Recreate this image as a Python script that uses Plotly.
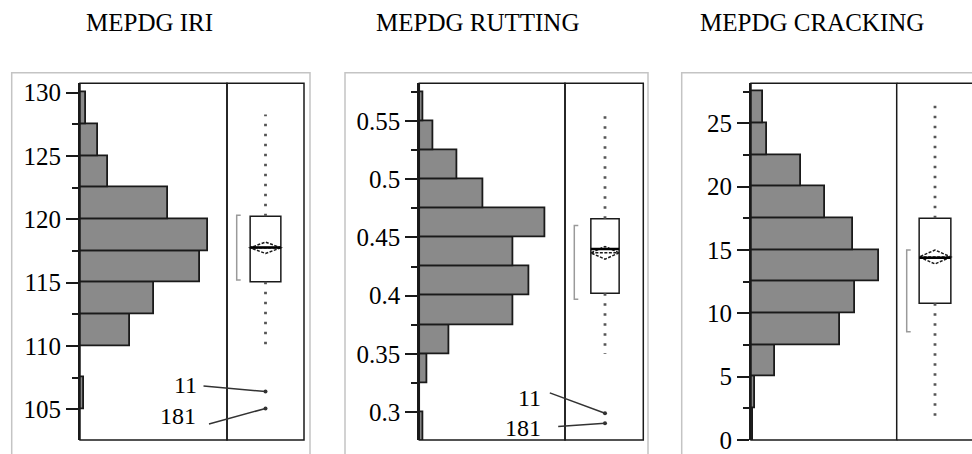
import plotly.graph_objects as go

W, H = 972, 454

# ---------------- data ----------------
titles = ["MEPDG IRI", "MEPDG RUTTING", "MEPDG CRACKING"]

# histogram bins (centres) and relative counts
iri_bins = [106.25, 108.75, 111.25, 113.75, 116.25, 118.75, 121.25, 123.75, 126.25, 128.75]
iri_counts = [2, 0, 25, 37, 60, 64, 44, 14, 9, 3]

rut_bins = [0.2875, 0.3125, 0.3375, 0.3625, 0.3875, 0.4125, 0.4375, 0.4625, 0.4875, 0.5125, 0.5375, 0.5625]
rut_counts = [2, 0, 4, 15, 47, 55, 47, 63, 32, 19, 7, 2]

crk_bins = [1.25, 3.75, 6.25, 8.75, 11.25, 13.75, 16.25, 18.75, 21.25, 23.75, 26.25]
crk_counts = [1, 2, 12, 44.5, 52, 64, 51, 37, 25, 8, 6]

# box-plot summaries: [q1, median, q3]
iri_quart = [115.06, 117.78, 120.24]
rut_quart = [0.4022, 0.440, 0.466]
crk_quart = [10.79, 14.39, 17.5]
# whiskers [low, high]
iri_whisk = [110.07, 128.26]
rut_whisk = [0.350, 0.5557]
crk_whisk = [1.79, 26.58]
# mean and mean-diamond half width
iri_mean = [117.75, 0.45]
rut_mean = [0.4368, 0.0054]
crk_mean = [14.45, 0.55]
# shortest half
iri_short = [115.2, 120.32]
rut_short = [0.397, 0.4602]
crk_short = [8.55, 15.0]
# outliers
iri_out = [106.4, 105.07]
rut_out = [0.2991, 0.2906]
crk_out = []
out_ids = ["11", "181"]

data = [
    dict(bins=iri_bins, counts=iri_counts, bw=2.5, quart=iri_quart, whisk=iri_whisk,
         mean=iri_mean, short=iri_short, out=iri_out),
    dict(bins=rut_bins, counts=rut_counts, bw=0.025, quart=rut_quart, whisk=rut_whisk,
         mean=rut_mean, short=rut_short, out=rut_out),
    dict(bins=crk_bins, counts=crk_counts, bw=2.5, quart=crk_quart, whisk=crk_whisk,
         mean=crk_mean, short=crk_short, out=crk_out),
]

# ---------------- layout geometry (pixels) ----------------
geo = [
    dict(hx0=80, div=227, bx1=304, bc=265.5, boxw=30.7, brk=236.7, yr=[102.58, 130.73],
         dt=5, mdt=2.5, frame=[11.7, 310],
         lab=[(-67, 6.7), (-67.5, -7.7)], arr=[(-63.5, -5.7), (-58, 16)]),
    dict(hx0=419.3, div=565, bx1=643.3, bc=605, boxw=28.3, brk=574.3, yr=[0.2762, 0.5823],
         dt=0.05, mdt=0.025, frame=[345, 648],
         lab=[(-61.7, 15.6), (-61.7, -5)], arr=[(-56.7, -21), (-48.3, 3.4)]),
    dict(hx0=751, div=896.7, bx1=972, bc=935, boxw=31.7, brk=906.7, yr=[0, 28.16],
         dt=5, mdt=2.5, frame=[681.7, 1100],
         lab=[], arr=[]),
]
title_x = [149, 477, 812]

YTOP, YBOT = 83.3, 440
yd = [1 - YBOT / H, 1 - YTOP / H]

FONT = "Liberation Serif"
BAR_FILL = "#8a8a8a"
DARK = "#1a1a1a"

fig = go.Figure()
shapes = []
annotations = []
layout_axes = {}

for i, (d, g) in enumerate(zip(data, geo)):
    hx = "x" if i == 0 else f"x{2*i+1}"
    bx = f"x{2*i+2}"
    yy = "y" if i == 0 else f"y{i+1}"
    hxk = "xaxis" if i == 0 else f"xaxis{2*i+1}"
    bxk = f"xaxis{2*i+2}"
    yk = "yaxis" if i == 0 else f"yaxis{i+1}"

    hist_w = g["div"] - g["hx0"]
    px_per_count = 2.0
    s = g["bc"] - g["div"]          # px per box-axis unit
    right = (g["bx1"] - g["bc"]) / s
    bw = g["boxw"] / s

    layout_axes[hxk] = dict(domain=[g["hx0"] / W, g["div"] / W], range=[0, hist_w / px_per_count],
                            anchor=yy, visible=False, fixedrange=True, automargin=False)
    layout_axes[bxk] = dict(domain=[g["div"] / W, min(g["bx1"] / W, 1)], range=[-1, right],
                            anchor=yy, visible=False, fixedrange=True, automargin=False)
    layout_axes[yk] = dict(domain=yd, range=g["yr"], anchor=hx, showgrid=False, zeroline=False,
                           automargin=False,
                           showline=True, linecolor=DARK, linewidth=2,
                           ticks="outside", ticklen=12, tickwidth=1.5, tickcolor=DARK,
                           dtick=g["dt"], tick0=0,
                           minor=dict(dtick=g["mdt"], ticks="outside", ticklen=6, tickwidth=1.5,
                                      tickcolor=DARK, showgrid=False),
                           tickfont=dict(family=FONT, size=25, color="black"),
                           fixedrange=True)

    # histogram
    fig.add_trace(go.Bar(y=d["bins"], x=d["counts"], orientation="h", width=d["bw"],
                         marker=dict(color=BAR_FILL, line=dict(color=DARK, width=1.8)),
                         xaxis=hx, yaxis=yy, showlegend=False, hoverinfo="skip"))

    q1, med, q3 = d["quart"]
    # box (no solid whiskers)
    fig.add_trace(go.Box(x=[0], q1=[q1], median=[med], q3=[q3], lowerfence=[q1], upperfence=[q3],
                         mean=[d["mean"][0]], sd=[d["mean"][1]], boxmean="sd",
                         width=bw, whiskerwidth=0, fillcolor="white",
                         line=dict(color=DARK, width=1.5), boxpoints=False,
                         orientation="v", xaxis=bx, yaxis=yy, showlegend=False, hoverinfo="skip"))
    # median emphasised
    fig.add_trace(go.Scatter(x=[-bw / 2, bw / 2], y=[med, med], mode="lines",
                             line=dict(color="black", width=2.5),
                             xaxis=bx, yaxis=yy, showlegend=False, hoverinfo="skip"))
    # dotted whiskers
    lo, hi = d["whisk"]
    fig.add_trace(go.Scatter(x=[0, 0, None, 0, 0], y=[q3, hi, None, q1, lo], mode="lines",
                             line=dict(color="#555555", width=2.8, dash="2.5px,7.5px"),
                             xaxis=bx, yaxis=yy, showlegend=False, hoverinfo="skip"))
    # shortest half bracket
    bxp = (g["brk"] - g["bc"]) / s
    tick = 4 / s
    sh0, sh1 = d["short"]
    fig.add_trace(go.Scatter(x=[bxp + tick, bxp, bxp, bxp + tick], y=[sh1, sh1, sh0, sh0],
                             mode="lines", line=dict(color="#9a9a9a", width=1.5),
                             xaxis=bx, yaxis=yy, showlegend=False, hoverinfo="skip"))
    # outliers
    if d["out"]:
        fig.add_trace(go.Scatter(x=[0] * len(d["out"]), y=d["out"], mode="markers",
                                 marker=dict(color="#333333", size=4),
                                 xaxis=bx, yaxis=yy, showlegend=False, hoverinfo="skip"))
        for k, v in enumerate(d["out"]):
            lx, ly = g["lab"][k]
            ax, ay = g["arr"][k]
            annotations.append(dict(xref=bx, yref=yy, x=0, y=v, text="", showarrow=True,
                                    ax=ax, ay=ay, arrowhead=0, arrowwidth=1.5,
                                    arrowcolor="#333333", standoff=0, startstandoff=0))
            annotations.append(dict(xref=bx, yref=yy, x=0, y=v, text=out_ids[k], showarrow=False,
                                    xanchor="right", yanchor="middle", xshift=lx, yshift=ly,
                                    font=dict(family=FONT, size=24, color="black")))

    # inner frames
    shapes.append(dict(type="rect", xref=f"{hx} domain", yref=f"{yy} domain", x0=0, x1=1, y0=0, y1=1,
                       line=dict(color=DARK, width=1.5)))
    if g["bx1"] < W:
        shapes.append(dict(type="rect", xref=f"{bx} domain", yref=f"{yy} domain", x0=0, x1=1, y0=0, y1=1,
                           line=dict(color=DARK, width=1.5)))
    else:
        for yv in (0, 1):
            shapes.append(dict(type="line", xref=f"{bx} domain", yref=f"{yy} domain", x0=0, x1=1.05,
                               y0=yv, y1=yv, line=dict(color=DARK, width=1.5)))
    # outer light frame
    shapes.append(dict(type="rect", xref="paper", yref="paper", x0=g["frame"][0] / W, x1=g["frame"][1] / W,
                       y0=-0.2, y1=1 - 72.7 / H, line=dict(color="#c4c4c4", width=1.5), layer="below"))

    annotations.append(dict(xref="paper", yref="paper", x=title_x[i] / W, y=1 - 22.5 / H,
                            text=titles[i], showarrow=False, xanchor="center", yanchor="middle",
                            font=dict(family=FONT, size=25, color="black")))

fig.update_layout(width=W, height=H, margin=dict(l=0, r=0, t=0, b=0, pad=0, autoexpand=False),
                  paper_bgcolor="white", plot_bgcolor="white",
                  barmode="overlay", bargap=0, showlegend=False,
                  shapes=shapes, annotations=annotations, **layout_axes)

fig.write_html("out.html", config={"displayModeBar": False, "responsive": False},
               post_script="document.body.style.margin='0px';document.body.style.overflow='hidden';")
